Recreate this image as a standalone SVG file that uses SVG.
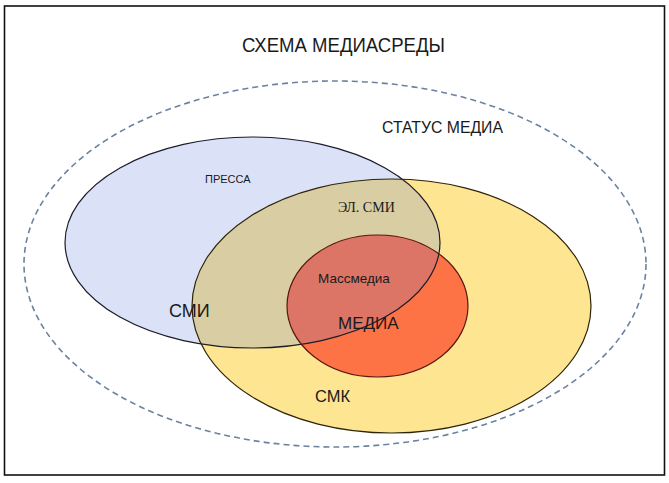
<svg xmlns="http://www.w3.org/2000/svg" width="669" height="483" viewBox="0 0 669 483">
<style>
.t{font-family:"Liberation Sans",Arial,sans-serif;fill:#1a1a1a}
.s{font-family:"Liberation Serif","Times New Roman",serif;fill:#1a1a1a}
.ol{fill:none;stroke-width:1.2}
</style>
<defs>
<clipPath id="clipBlue"><ellipse cx="252.5" cy="242.5" rx="187.5" ry="105.5"/></clipPath>
</defs>
<rect x="0" y="0" width="669" height="483" fill="#ffffff"/>
<rect x="4.5" y="6" width="660" height="469" fill="none" stroke="#111" stroke-width="1.6"/>
<text class="t" x="242" y="52" font-size="20" textLength="203" lengthAdjust="spacingAndGlyphs">СХЕМА МЕДИАСРЕДЫ</text>
<g id="status-media">
<ellipse cx="335" cy="264" rx="311" ry="183" fill="none" stroke="#6b82a0" stroke-width="1.6" stroke-dasharray="6,4"/>
<text class="t" x="382" y="133" font-size="16" textLength="121" lengthAdjust="spacingAndGlyphs">СТАТУС МЕДИА</text>
</g>
<g id="pressa">
<ellipse cx="252.5" cy="242.5" rx="187.5" ry="105.5" fill="#dbe2f8"/>
</g>
<g id="smk">
<ellipse cx="391.5" cy="306" rx="199.5" ry="127" fill="#fee591"/>
<ellipse cx="391.5" cy="306" rx="199.5" ry="127" fill="#d9cda3" clip-path="url(#clipBlue)"/>
</g>
<g id="media">
<ellipse cx="377.5" cy="306" rx="90.5" ry="71" fill="#fd7346"/>
<ellipse cx="377.5" cy="306" rx="90.5" ry="71" fill="#dc7566" clip-path="url(#clipBlue)"/>
</g>
<g id="outlines">
<ellipse class="ol" cx="252.5" cy="242.5" rx="187.5" ry="105.5" stroke="#1c1c2a"/>
<ellipse class="ol" cx="391.5" cy="306" rx="199.5" ry="127" stroke="#2e2408"/>
<ellipse class="ol" cx="377.5" cy="306" rx="90.5" ry="71" stroke="#5a1810"/>
</g>
<g id="labels">
<text class="t" x="205" y="183" font-size="11">ПРЕССА</text>
<text class="s" x="338" y="212" font-size="14">ЭЛ. СМИ</text>
<text class="t" x="318" y="283" font-size="13.5">Массмедиа</text>
<text class="t" x="169" y="317" font-size="18">СМИ</text>
<text class="t" x="338" y="329" font-size="17">МЕДИА</text>
<text class="t" x="315" y="402" font-size="17" textLength="35" lengthAdjust="spacingAndGlyphs">СМК</text>
</g>
</svg>
